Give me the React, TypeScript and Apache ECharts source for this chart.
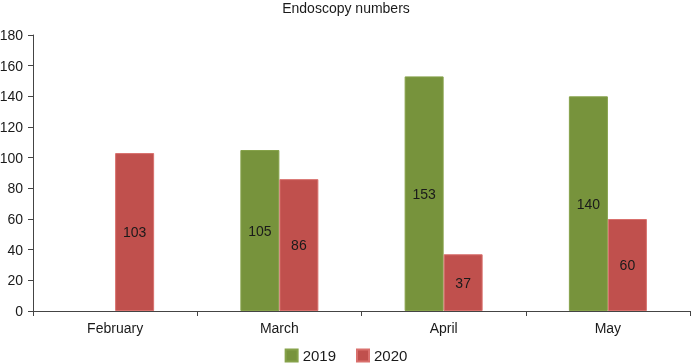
import React, { useEffect, useRef } from "react";
import * as echarts from "echarts";

const categories = ["February", "March", "April", "May"];
const series2019: (number | null)[] = [null, 105, 153, 140];
const series2020: (number | null)[] = [103, 86, 37, 60];
const yTicks = { min: 0, max: 180, interval: 20 };

export default function App() {
  const ref = useRef<HTMLDivElement>(null);
  useEffect(() => {
    if (!ref.current) return;
    const chart = echarts.init(ref.current, undefined, { renderer: "svg" });
    const font = "Liberation Sans, Arial, Helvetica, sans-serif";
    const label = {
      show: true,
      position: "inside" as const,
      color: "#1a1a1a",
      fontSize: 14,
      fontFamily: font,
    };
    chart.setOption({
      animation: false,
      title: {
        text: "Endoscopy numbers",
        left: "center",
        top: 1,
        padding: 0,
        textStyle: { fontSize: 14, fontWeight: "normal", color: "#1a1a1a", fontFamily: font },
      },
      legend: {
        bottom: 1,
        left: "center",
        padding: 0,
        itemWidth: 12,
        itemHeight: 12,
        itemGap: 20,
        icon: "rect",
        textStyle: { fontSize: 15, color: "#1a1a1a", fontFamily: font },
        data: ["2019", "2020"],
      },
      grid: { left: 33, right: 2, top: 35, bottom: 53, outerBoundsMode: "none", containLabel: false },
      xAxis: {
        type: "category",
        data: categories,
        axisLine: { lineStyle: { color: "#444", width: 1 } },
        axisTick: { show: true, alignWithLabel: false, length: 5, lineStyle: { color: "#444" } },
        axisLabel: { fontSize: 14, color: "#1a1a1a", fontFamily: font, margin: 10 },
      },
      yAxis: {
        type: "value",
        min: yTicks.min,
        max: yTicks.max,
        interval: yTicks.interval,
        axisLine: { show: true, lineStyle: { color: "#444", width: 1 } },
        axisTick: { show: true, length: 5, lineStyle: { color: "#444" } },
        splitLine: { show: false },
        axisLabel: { fontSize: 14, color: "#1a1a1a", fontFamily: font, margin: 10 },
      },
      series: [
        {
          name: "2019",
          type: "bar",
          data: series2019,
          barWidth: 39,
          barGap: "0%",
          itemStyle: { color: "#77933C", borderColor: "#86a24a", borderWidth: 1 },
          label,
        },
        {
          name: "2020",
          type: "bar",
          data: series2020,
          barWidth: 39,
          barGap: "0%",
          itemStyle: { color: "#C0504D", borderColor: "#d9706d", borderWidth: 1 },
          label,
        },
      ],
    });
    return () => chart.dispose();
  }, []);
  return (
    <div
      ref={ref}
      style={{ position: "fixed", left: 0, top: 0, width: 692, height: 364 }}
    />
  );
}
